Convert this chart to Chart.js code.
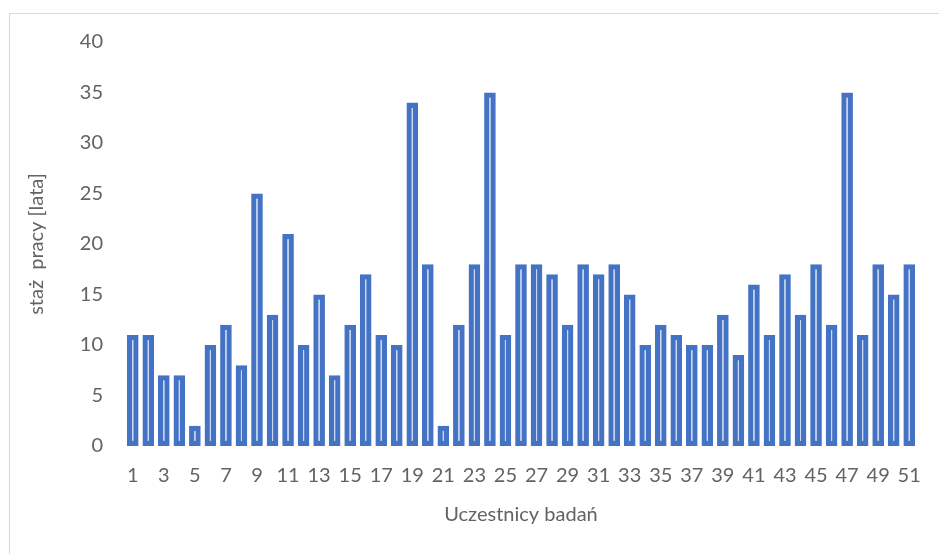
<!DOCTYPE html>
<html>
<head>
<meta charset="utf-8">
<script src="https://cdn.jsdelivr.net/npm/chart.js@4"></script>
<style>
  html, body { margin: 0; padding: 0; background: #fff; overflow: hidden; }
  #frame {
    position: absolute; left: 9px; top: 13px; width: 1000px; height: 600px;
    border-left: 1px solid #d9d9d9; border-top: 1px solid #d9d9d9;
  }
  #myChart { position: absolute; left: 0; top: 0; }
</style>
</head>
<body>
<div id="frame"></div>
<canvas id="myChart" width="939" height="554"></canvas>
<script>
  // participants 1..51
  const uczestnicy = [];
  for (let i = 1; i <= 51; i++) uczestnicy.push(String(i));

  // years of work
  const stazPracy = [
    11, 11, 7, 7, 2, 10, 12, 8, 25, 13,
    21, 10, 15, 7, 12, 17, 11, 10, 34, 18,
    2, 12, 18, 35, 11, 18, 18, 17, 12, 18,
    17, 18, 15, 10, 12, 11, 10, 10, 13, 9,
    16, 11, 17, 13, 18, 12, 35, 11, 18, 15,
    18
  ];

  const yTicks = [0, 5, 10, 15, 20, 25, 30, 35, 40];

  const FONT = { family: 'Lato', size: 20 };
  const GRAY = '#636363';

  const config = {
    type: 'bar',
    data: {
      labels: uczestnicy,
      datasets: [{
        label: 'staż pracy',
        data: stazPracy,
        backgroundColor: '#c9d6ef',
        borderColor: '#4472c4',
        borderWidth: 5.3,
        borderSkipped: false,
        categoryPercentage: 1,
        barPercentage: 0.75
      }]
    },
    options: {
      responsive: false,
      animation: false,
      layout: { padding: { top: 42, right: 18, left: 0, bottom: 0 } },
      plugins: {
        legend: { display: false },
        tooltip: { enabled: false }
      },
      scales: {
        x: {
          grid: { display: false, drawTicks: false },
          border: { display: false },
          ticks: {
            color: GRAY,
            font: FONT,
            padding: 18,
            autoSkip: false,
            maxRotation: 0,
            callback: function (v, i) { return i % 2 === 0 ? uczestnicy[i] : ''; }
          },
          title: {
            display: true,
            text: 'Uczestnicy badań',
            color: GRAY,
            font: FONT,
            padding: { top: 0, bottom: 27 }
          },
          afterFit: function (s) { s.height = 108; }
        },
        y: {
          min: 0,
          max: 40,
          grid: { display: false, drawTicks: false },
          border: { display: false },
          afterBuildTicks: function (s) { s.ticks = yTicks.map(v => ({ value: v })); },
          ticks: { color: GRAY, font: FONT, padding: 22 },
          title: {
            display: true,
            text: 'staż  pracy [lata]',
            color: GRAY,
            font: FONT,
            padding: { top: 25, bottom: 0 }
          },
          afterFit: function (s) { s.width = 125; }
        }
      }
    }
  };

  var myChart = new Chart(document.getElementById('myChart'), config);
</script>
</body>
</html>
